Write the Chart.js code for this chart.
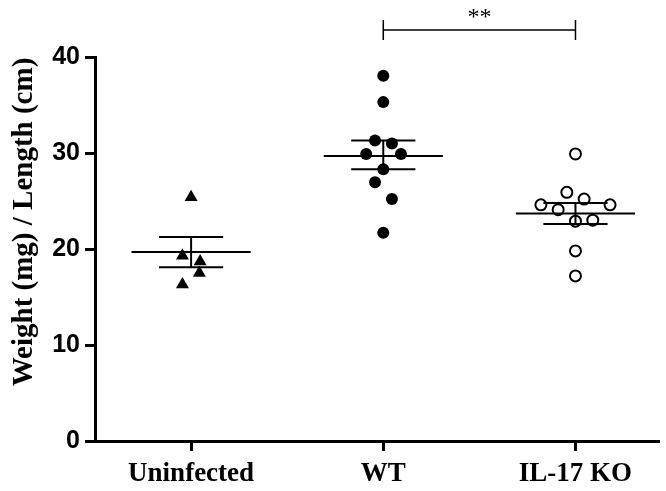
<!DOCTYPE html>
<html>
<head>
<meta charset="utf-8">
<script src="https://cdn.jsdelivr.net/npm/chart.js@4.4.0/dist/chart.umd.min.js"></script>
<style>
  body { margin: 0; background: #fff; }
  #wrap { width: 666px; height: 491px; }
</style>
</head>
<body>
<div id="wrap"><canvas id="weightChart" width="666" height="491"></canvas></div>
<script>
const groups = ['Uninfected', 'WT', 'IL-17 KO'];
const uninfected = [25.4, 19.3, 18.7, 17.5, 16.3];
const uninfectedJitter = [0, -0.045, 0.047, 0.043, -0.045];
const wt = [38.05, 35.3, 31.3, 31.0, 29.9, 29.9, 28.3, 26.95, 25.2, 21.7];
const wtJitter = [0, 0, -0.043, 0.045, -0.089, 0.092, 0, -0.043, 0.045, 0];
const ko = [29.9, 25.9, 25.2, 24.6, 24.6, 24.1, 22.9, 23.0, 19.8, 17.2];
const koJitter = [0, -0.045, 0.045, -0.18, 0.18, -0.09, 0, 0.09, 0, 0];

// mean +/- SEM per group
const means = [19.7, 29.7, 23.7];
const semHigh = [21.25, 31.3, 24.8];
const semLow = [18.1, 28.3, 22.6];

const yTicks = [0, 10, 20, 30, 40];

// significance bracket between WT and IL-17 KO
const sigGroups = [2, 3];
const sigLevel = 42.8;
const sigLabel = '**';

const MEAN_HALF = 0.31;
const CAP_HALF = 0.167;

function points(vals, jit, pos) {
  return vals.map((v, i) => ({ x: pos + jit[i], y: v }));
}

// mean bar, SEM caps and vertical SEM line, separated by null gaps
const statLines = [];
means.forEach((m, i) => {
  const c = i + 1;
  statLines.push({ x: c - MEAN_HALF, y: m }, { x: c + MEAN_HALF, y: m }, { x: c, y: null });
  statLines.push({ x: c - CAP_HALF, y: semHigh[i] }, { x: c + CAP_HALF, y: semHigh[i] }, { x: c, y: null });
  statLines.push({ x: c - CAP_HALF, y: semLow[i] }, { x: c + CAP_HALF, y: semLow[i] }, { x: c, y: null });
  statLines.push({ x: c, y: semLow[i] }, { x: c, y: semHigh[i] }, { x: c, y: null });
});

const yTitlePlugin = {
  id: 'yTitle',
  afterDraw(chart) {
    const c = chart.ctx;
    c.save();
    c.translate(25, 222);
    c.rotate(-Math.PI / 2);
    c.font = "bold 29px 'Liberation Serif', serif";
    c.fillStyle = '#000';
    c.textAlign = 'center';
    c.textBaseline = 'middle';
    c.fillText('Weight (mg) / Length (cm)', 0, 0);
    c.restore();
  }
};

const bracketPlugin = {
  id: 'bracket',
  afterDatasetsDraw(chart) {
    const c = chart.ctx;
    const xs = chart.scales.x, ys = chart.scales.y;
    const x1 = xs.getPixelForValue(sigGroups[0]);
    const x2 = xs.getPixelForValue(sigGroups[1]);
    const y = ys.getPixelForValue(sigLevel);
    c.save();
    c.strokeStyle = '#000';
    c.lineWidth = 1.5;
    c.beginPath();
    c.moveTo(x1, y); c.lineTo(x2, y);
    c.moveTo(x1, y - 10); c.lineTo(x1, y + 10);
    c.moveTo(x2, y - 10); c.lineTo(x2, y + 10);
    c.stroke();
    c.font = "24px 'Liberation Serif', serif";
    c.fillStyle = '#000';
    c.textAlign = 'center';
    c.textBaseline = 'alphabetic';
    c.fillText(sigLabel, (x1 + x2) / 2, y - 6);
    c.restore();
  }
};

const ctx = document.getElementById('weightChart').getContext('2d');

new Chart(ctx, {
  type: 'scatter',
  data: {
    datasets: [
      {
        label: 'stats',
        type: 'line',
        data: statLines,
        showLine: true,
        spanGaps: false,
        borderColor: '#000',
        borderWidth: 2,
        pointRadius: 0,
        order: 0
      },
      {
        label: groups[0],
        data: points(uninfected, uninfectedJitter, 1),
        pointStyle: 'triangle',
        pointRadius: 7.5,
        backgroundColor: '#000',
        borderColor: '#000',
        borderWidth: 0,
        order: 1
      },
      {
        label: groups[1],
        data: points(wt, wtJitter, 2),
        pointStyle: 'circle',
        pointRadius: 6,
        backgroundColor: '#000',
        borderColor: '#000',
        borderWidth: 0,
        order: 1
      },
      {
        label: groups[2],
        data: points(ko, koJitter, 3),
        pointStyle: 'circle',
        pointRadius: 5.5,
        backgroundColor: '#fff',
        borderColor: '#000',
        borderWidth: 2,
        order: 1
      }
    ]
  },
  options: {
    responsive: false,
    animation: false,
    layout: { padding: { top: 57, right: 0, left: 0, bottom: 0 } },
    plugins: {
      legend: { display: false },
      tooltip: { enabled: false }
    },
    scales: {
      x: {
        type: 'linear',
        min: 0.5,
        max: 3.432,
        afterBuildTicks: axis => { axis.ticks = [1, 2, 3].map(v => ({ value: v })); },
        afterFit: axis => { axis.height = 50; },
        ticks: {
          callback: v => groups[v - 1],
          color: '#000',
          font: { family: "'Liberation Serif', serif", size: 27, weight: 'bold' },
          padding: 7,
          maxRotation: 0,
          autoSkip: false
        },
        grid: { drawOnChartArea: false, tickLength: 10, lineWidth: 3, color: '#000' },
        border: { color: '#000', width: 3 }
      },
      y: {
        min: 0,
        max: 40,
        afterBuildTicks: axis => { axis.ticks = yTicks.map(v => ({ value: v })); },
        afterFit: axis => { axis.width = 95; },
        ticks: {
          color: '#000',
          font: { family: "'Liberation Sans', Arial, sans-serif", size: 25, weight: 'bold' },
          padding: 5
        },
        grid: { drawOnChartArea: false, tickLength: 10, lineWidth: 3, color: '#000' },
        border: { color: '#000', width: 3 }
      }
    }
  },
  plugins: [yTitlePlugin, bracketPlugin]
});
</script>
</body>
</html>
